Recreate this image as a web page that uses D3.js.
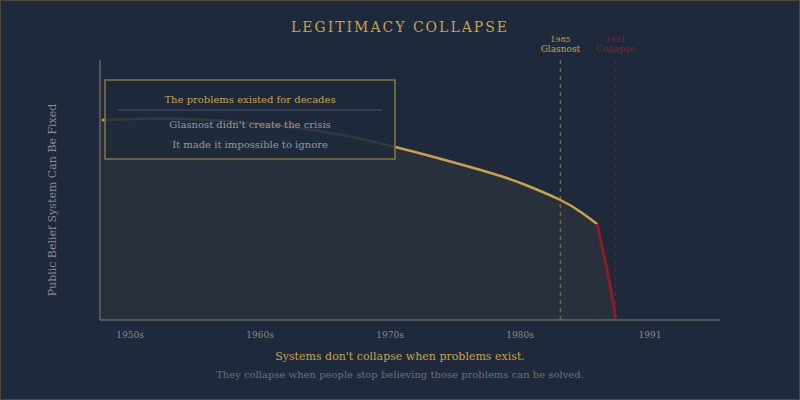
<!DOCTYPE html>
<html>
<head>
<meta charset="utf-8">
<script src="https://cdn.jsdelivr.net/npm/d3@7"></script>
<style>
  body { margin: 0; background: #1e293b; }
  svg { display: block; font-family: "DejaVu Serif", Georgia, serif; }
</style>
</head>
<body>
<div id="chart"></div>
<script>
// belief that the system can be fixed, by year (0-100)
const beliefYears = [1935, 1940.5, 1946, 1951.5, 1957, 1962, 1967, 1972, 1977.5, 1981, 1985, 1987.3, 1989];
const beliefValues = [80, 80.6, 80.2, 78.7, 76.5, 73.4, 69.2, 64.4, 58.7, 54.3, 48, 43, 38.4];
const collapseYears = [1989, 1989.5, 1990.2, 1990.8, 1991];
const collapseValues = [38.4, 30, 18, 6, 0.8];
const tickLabels = ["1950s", "1960s", "1970s", "1980s", "1991"];
const events = [
    { year: 1985, label: "Glasnost", color: "#c9a34a", line: "#6b6550" },
    { year: 1991, label: "Collapse", color: "#8b1e23", line: "#5a2230" }
];

const width = 800;
const height = 400;

const svg = d3
    .select("#chart")
    .append("svg")
    .attr("width", width)
    .attr("height", height);

svg.append("rect")
    .attr("x", 0.5).attr("y", 0.5)
    .attr("width", width - 1).attr("height", height - 1)
    .attr("fill", "#1e293b")
    .attr("stroke", "#4d4a3c");

const x = d3.scaleLinear().domain([1934.8, 2002.4]).range([100, 720]);
const y = d3.scaleLinear().domain([0, 100]).range([320, 70]);
const xLabel = d3.scalePoint().domain(tickLabels).range([130, 650]);

const gold = beliefYears.map((d, i) => [d, beliefValues[i]]);
const red = collapseYears.map((d, i) => [d, collapseValues[i]]);

// area under the curve, one piece per segment
const area = d3.area()
    .x(d => x(d[0]))
    .y0(y(0))
    .y1(d => y(d[1]))
    .curve(d3.curveNatural);

[gold, red].forEach(seg => {
    svg.append("path")
        .datum(seg)
        .attr("d", area)
        .attr("fill", "rgba(201,163,74,0.06)");
});

// event lines
events.forEach(e => {
    svg.append("line")
        .attr("x1", x(e.year)).attr("x2", x(e.year))
        .attr("y1", 60).attr("y2", 320)
        .attr("stroke", e.line)
        .attr("stroke-width", 1.5)
        .attr("stroke-dasharray", "4,4");
    svg.append("text")
        .attr("x", x(e.year)).attr("y", 42)
        .attr("text-anchor", "middle")
        .attr("font-size", "8px")
        .attr("fill", e.color)
        .text(e.year);
    svg.append("text")
        .attr("x", x(e.year)).attr("y", 52)
        .attr("text-anchor", "middle")
        .attr("font-size", "9px")
        .attr("fill", e.color)
        .text(e.label);
});

const line = d3.line()
    .x(d => x(d[0]))
    .y(d => y(d[1]))
    .curve(d3.curveNatural);

svg.append("path")
    .datum(gold)
    .attr("d", line)
    .attr("fill", "none")
    .attr("stroke", "#c9a34a")
    .attr("stroke-width", 2.5);

svg.append("path")
    .datum(red)
    .attr("d", line)
    .attr("fill", "none")
    .attr("stroke", "#8b1e23")
    .attr("stroke-width", 3);

// axes
svg.append("line")
    .attr("x1", 100).attr("x2", 100)
    .attr("y1", 60).attr("y2", 320)
    .attr("stroke", "#666")
    .attr("stroke-width", 1.5);
svg.append("line")
    .attr("x1", 100).attr("x2", 720)
    .attr("y1", 320).attr("y2", 320)
    .attr("stroke", "#666")
    .attr("stroke-width", 1.5);

svg.selectAll(".xlab")
    .data(tickLabels)
    .enter()
    .append("text")
    .attr("class", "xlab")
    .attr("x", d => xLabel(d))
    .attr("y", 338)
    .attr("text-anchor", "middle")
    .attr("font-size", "9px")
    .attr("fill", "#8a8a8a")
    .text(d => d);

svg.append("text")
    .attr("transform", "translate(56,200) rotate(-90)")
    .attr("text-anchor", "middle")
    .attr("font-size", "11px")
    .attr("fill", "#8a8a8a")
    .text("Public Belief System Can Be Fixed");

// note box
const box = svg.append("g");
box.append("rect")
    .attr("x", 105).attr("y", 80)
    .attr("width", 290).attr("height", 79)
    .attr("fill", "rgba(30,41,59,0.88)")
    .attr("stroke", "#8a7440")
    .attr("stroke-width", 1.5);
box.append("text")
    .attr("x", 250).attr("y", 103)
    .attr("text-anchor", "middle")
    .attr("font-size", "10px")
    .attr("fill", "#c9a34a")
    .text("The problems existed for decades");
box.append("line")
    .attr("x1", 118).attr("x2", 382)
    .attr("y1", 110).attr("y2", 110)
    .attr("stroke", "#3a4350")
    .attr("stroke-width", 1.5);
box.append("text")
    .attr("x", 250).attr("y", 128)
    .attr("text-anchor", "middle")
    .attr("font-size", "10px")
    .attr("fill", "#9a9a9a")
    .text("Glasnost didn't create the crisis");
box.append("text")
    .attr("x", 250).attr("y", 148)
    .attr("text-anchor", "middle")
    .attr("font-size", "10px")
    .attr("fill", "#9a9a9a")
    .text("It made it impossible to ignore");

// titles
svg.append("text")
    .attr("x", 400).attr("y", 32)
    .attr("text-anchor", "middle")
    .attr("font-size", "14px")
    .attr("letter-spacing", "2px")
    .attr("fill", "#c9a34a")
    .text("LEGITIMACY COLLAPSE");

svg.append("text")
    .attr("x", 400).attr("y", 360)
    .attr("text-anchor", "middle")
    .attr("font-size", "11px")
    .attr("fill", "#c9a34a")
    .text("Systems don't collapse when problems exist.");

svg.append("text")
    .attr("x", 400).attr("y", 378)
    .attr("text-anchor", "middle")
    .attr("font-size", "10px")
    .attr("fill", "#6b7280")
    .text("They collapse when people stop believing those problems can be solved.");
</script>
</body>
</html>
